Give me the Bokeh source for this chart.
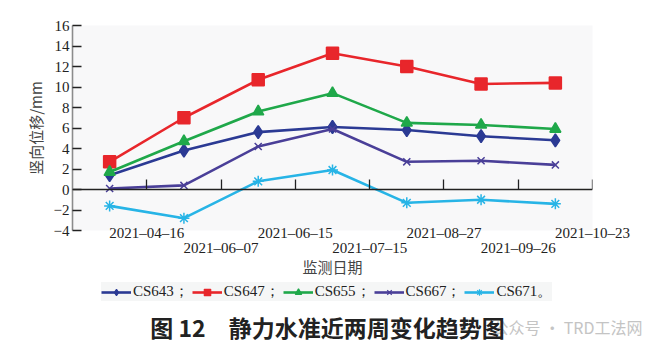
from bokeh.plotting import figure
from bokeh.layouts import column, row
from bokeh.models import FixedTicker, LinearAxis, Range1d, Legend, LegendItem, Label
from bokeh.embed import file_html
from bokeh.resources import INLINE

# ---- data ----
dates = ["2021-04-16", "2021-06-07", "2021-06-15", "2021-07-15",
         "2021-08-27", "2021-09-26", "2021-10-23"]
cs643 = [1.4, 3.8, 5.6, 6.1, 5.8, 5.2, 4.8]
cs647 = [2.7, 7.0, 10.7, 13.3, 12.0, 10.3, 10.4]
cs655 = [1.7, 4.7, 7.6, 9.4, 6.5, 6.3, 5.9]
cs667 = [0.1, 0.4, 4.2, 5.9, 2.7, 2.8, 2.4]
cs671 = [-1.6, -2.8, 0.8, 1.9, -1.3, -1.0, -1.4]
y_ticks = [-4, -2, 0, 2, 4, 6, 8, 10, 12, 14, 16]
legend_labels = ["CS643；", "CS647；", "CS655；", "CS667；", "CS671。"]
caption_text = "图 12　静力水准近两周变化趋势图"
watermark_text = "公众号 · TRD工法网"

series = [
    (cs643, "#2b3a94", "diamond", 13),
    (cs647, "#e8262b", "square", 12),
    (cs655, "#1fa84a", "triangle", 11),
    (cs667, "#4a3f98", "x", 10),
    (cs671, "#27b4e6", "asterisk", 11),
]

n = len(dates)
xs = [i + 0.5 for i in range(n)]
tick_pos = [i + 1 for i in range(n)]
labels = [d.replace("-", "–") for d in dates]

SERIF = "Times New Roman"
CJK = "Noto Sans CJK SC"

# ---------------- main chart ----------------
p = figure(frame_width=520, frame_height=205, output_backend="svg",
           toolbar_location=None, x_range=Range1d(0, n), y_range=Range1d(-4, 16),
           min_border_left=72, min_border_right=68, min_border_top=25,
           min_border_bottom=48)
p.background_fill_color = "#f8f8f9"
p.border_fill_color = "white"
p.outline_line_color = None
p.xgrid.visible = False
p.ygrid.visible = False

ya = p.yaxis[0]
ya.ticker = FixedTicker(ticks=y_ticks)
ya.major_label_overrides = {t: (str(t).replace("-", "−")) for t in y_ticks}
ya.major_tick_in = 9
ya.major_tick_out = 0
ya.minor_tick_line_color = None
ya.axis_line_color = "#8c8c8c"
ya.axis_line_width = 1.6
ya.major_tick_line_color = "#222222"
ya.major_tick_line_width = 1.3
ya.major_label_text_font = SERIF
ya.major_label_text_font_size = "15px"
ya.major_label_text_color = "#222222"
ya.major_label_standoff = 3
ya.axis_label = "竖向位移/mm"
ya.axis_label_text_font = CJK
ya.axis_label_text_font_size = "15px"
ya.axis_label_text_font_style = "normal"
ya.axis_label_text_color = "#444444"
ya.axis_label_standoff = 5

# x labels, row 1 (default axis)
xa = p.xaxis[0]
row1 = tick_pos[0::2]
xa.ticker = FixedTicker(ticks=row1)
xa.major_label_overrides = {t: labels[t - 1] for t in row1}
xa.axis_line_color = None
xa.major_tick_line_color = None
xa.minor_tick_line_color = None
xa.major_tick_out = 0
xa.major_tick_in = 0
xa.major_label_text_font = SERIF
xa.major_label_text_font_size = "15px"
xa.major_label_text_color = "#222222"
xa.major_label_standoff = -6

# axis line crossing at y = 0
zero_axis = LinearAxis(fixed_location=0, ticker=FixedTicker(ticks=tick_pos),
                       major_label_overrides={t: "" for t in tick_pos},
                       major_label_text_font_size="0px",
                       major_tick_in=10, major_tick_out=0,
                       minor_tick_line_color=None,
                       axis_line_color="#222222", axis_line_width=1.3,
                       major_tick_line_color="#222222", major_tick_line_width=1.3)
p.add_layout(zero_axis, "below")

# x labels, row 2
row2 = tick_pos[1::2]
xb = LinearAxis(ticker=FixedTicker(ticks=row2),
                major_label_overrides={t: labels[t - 1] for t in row2},
                axis_line_color=None, major_tick_line_color=None,
                minor_tick_line_color=None, major_tick_in=0, major_tick_out=0,
                major_label_text_font=SERIF, major_label_text_font_size="15px",
                major_label_text_color="#222222", major_label_standoff=-4,
                axis_label="监测日期", axis_label_text_font=CJK,
                axis_label_text_font_size="15px", axis_label_text_font_style="normal",
                axis_label_text_color="#444444", axis_label_standoff=-3)
p.add_layout(xb, "below")

for vals, color, marker, size in series:
    p.line(xs, vals, line_color=color, line_width=2.6)
    p.scatter(xs, vals, marker=marker, size=size, fill_color=color,
              line_color=color, line_width=1.5)

# ---------------- legend + caption strip ----------------
# the series are re-drawn here only as legend keys; the y range keeps them off-canvas
p2 = figure(width=660, height=78, output_backend="svg", toolbar_location=None,
            x_axis_type=None, y_axis_type=None, x_range=Range1d(0, n),
            y_range=Range1d(100, 101), min_border=0, min_border_left=0,
            min_border_right=0, min_border_top=0, min_border_bottom=0)
p2.outline_line_color = None
p2.xgrid.visible = False
p2.ygrid.visible = False
p2.border_fill_color = "white"
p2.background_fill_color = "white"

items = []
for (vals, color, marker, size), lab in zip(series, legend_labels):
    r1 = p2.line(xs, vals, line_color=color, line_width=2.6)
    r2 = p2.scatter(xs, vals, marker=marker, size=size * 0.7,
                    fill_color=color, line_color=color, line_width=1.2)
    items.append(LegendItem(label=lab, renderers=[r1, r2]))

legend = Legend(items=items, orientation="horizontal", location=(101, 56),
                label_text_font=SERIF, label_text_font_size="15px",
                label_text_color="#222222", glyph_width=30, glyph_height=16,
                label_standoff=2, spacing=3, padding=4, margin=0,
                label_height=16,
                background_fill_color="#f4f5f6", border_line_color=None)
p2.add_layout(legend, "center")

wm = Label(x=642, y=31, x_units="screen", y_units="screen", text=watermark_text,
           text_align="right", text_baseline="middle", text_font=CJK,
           text_font_size="16px", text_color="#c4c4c4", level="underlay")
p2.add_layout(wm)

cap = Label(x=327, y=31, x_units="screen", y_units="screen", text=caption_text,
            text_align="center", text_baseline="middle", text_font=CJK,
            text_font_size="23px", text_font_style="bold", text_color="#222222")
p2.add_layout(cap)

layout = column(p, row(p2), spacing=0)
open("out.html", "w").write(file_html(layout, INLINE))
